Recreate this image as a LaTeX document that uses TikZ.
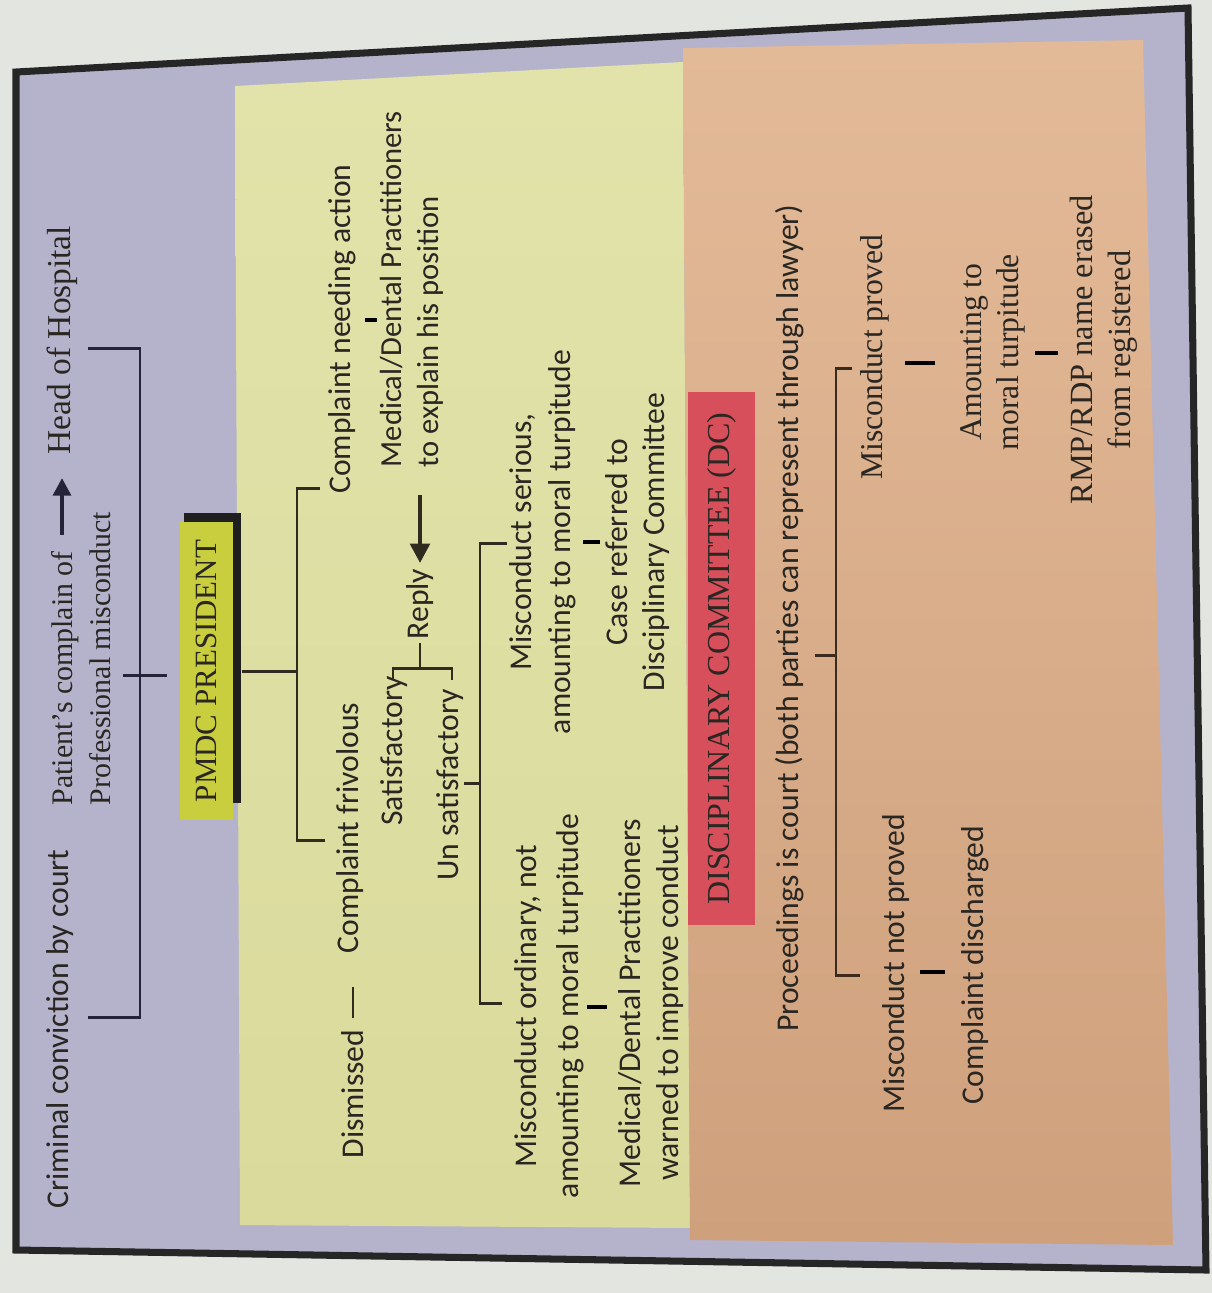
\documentclass[tikz,border=0pt]{standalone}
\usepackage{fontspec}
\setmainfont{Liberation Serif}
\newfontfamily\opt{Carlito}
\usetikzlibrary{arrows.meta,calc}
\definecolor{bgc}{HTML}{E3E5E1}
\definecolor{lav}{HTML}{B5B3CB}
\definecolor{ylwT}{HTML}{E2E3AA}
\definecolor{ylwB}{HTML}{D9DA9B}
\definecolor{orgT}{HTML}{E3BA98}
\definecolor{orgB}{HTML}{CFA07C}
\definecolor{pmdcc}{HTML}{C9CE3E}
\definecolor{dcc}{HTML}{D84F5C}
\definecolor{ink}{HTML}{2A2622}
\definecolor{navy}{HTML}{24233A}
\definecolor{olive}{HTML}{2F2B1E}
\definecolor{brwn}{HTML}{3B2A1D}
\begin{document}
\begin{tikzpicture}[x=0.01cm,y=-0.01cm,
  txt/.style={rotate=90, inner sep=0pt, text=ink, align=center},
  tms/.style={txt, font=\fontsize{9}{10.8}\selectfont},
  sns/.style={txt, font=\opt\fontsize{9}{11}\selectfont},
  ln/.style={line width=0.85pt},
  tk/.style={line width=1.1pt}
]
\useasboundingbox (0,0) rectangle (1212,1293);
\fill[bgc] (0,0) rectangle (1212,1293);
% frame and panels
\filldraw[fill=lav, draw=black!85, line width=2pt] (16,72) -- (1188,8) -- (1206,1270) -- (16,1250) -- cycle;
\shade[top color=ylwT, bottom color=ylwB] (235,86) -- (683,62) -- (690,1228) -- (240,1225) -- cycle;
\shade[top color=orgT, bottom color=orgB] (683,48) -- (1143,40) -- (1173,1245) -- (690,1240) -- cycle;

% ---- top (lavender) level
\node[sns] (crim) at (60,1029) {Criminal conviction by court};
\node[tms, align=left, anchor=west, font=\fontsize{8.5}{10.8}\selectfont] (pat) at (81,806) {Patient's complain of\\Professional misconduct};
\node[tms, font=\fontsize{9.5}{11}\selectfont] (head) at (62,340) {Head of Hospital};
\coordinate (arS) at (62,535);
\coordinate (arE) at (62,478);
\draw[navy, line width=1.2pt, -{Triangle[length=5pt,width=5pt]}] (arS) -- (arE);
\draw[ln, navy] (88,348) -- (140,348) -- (140,1017) -- (88,1017);
\draw[ln, navy] (123,675) -- (167,675);

% ---- PMDC president
\fill[black!88] (184,513) rectangle (241,803);
\node[rotate=90, fill=pmdcc, minimum width=2.98cm, minimum height=0.53cm, inner sep=0pt,
      font=\fontsize{8.8}{10}\selectfont, text=ink] (pmdc) at (206.5,671) {PMDC PRESIDENT};
\coordinate (b2) at (297,671);
\draw[ln, olive] ([xshift=0.08cm]pmdc.south) -- (b2);
\draw[ln, olive] (320,488) -- (297,488) -- (297,840) -- (325,840);

\node[sns] (cna) at (342,329) {Complaint needing action};
\node[sns, align=left, anchor=west, font=\opt\fontsize{8.7}{10.5}\selectfont] (mdp) at (412,468) {Medical/Dental Practitioners\\to explain his position};
\draw[tk] (365,320) -- (377,320);

\node[sns] (dis) at (353,1094) {Dismissed};
\node[sns] (cf) at (350,828) {Complaint frivolous};
\draw[ln, olive] (dis.east |- 0,1018) -- (dis.east |- 0,987);

\node[sns] (sat) at (394,751) {Satisfactory};
\node[sns] (unsat) at (450,785) {Un satisfactory};
\node[sns] (reply) at (420,604) {Reply};
\draw[ln, olive] (393,680) -- (393,668) -- (452,668) -- (452,680);
\draw[ln, olive] (420,668) -- (420,643);
\draw[olive, line width=1.2pt, -{Triangle[length=5.5pt,width=5.5pt]}] (420,495) -- (420,563);

\draw[ln, olive] (unsat.south |- 0,783) -- (480,783);
\draw[ln, olive] (507,543) -- (480,543) -- (480,1003) -- (502,1003);

\node[sns, font=\opt\fontsize{9}{11.2}\selectfont] (ms) at (543,542) {Misconduct serious,\\amounting to moral turpitude};
\node[sns, font=\opt\fontsize{9}{10.5}\selectfont] (crd) at (638,542) {Case referred to\\Disciplinary Committee};
\draw[tk] (583,542) -- (600,542);

\node[sns, font=\opt\fontsize{9}{11.8}\selectfont] (mo) at (549,1006) {Misconduct ordinary, not\\amounting to moral turpitude};
\node[sns, font=\opt\fontsize{9}{10.8}\selectfont] (mdw) at (651,1003) {Medical/Dental Practitioners\\warned to improve conduct};
\draw[tk] (587,1007) -- (607,1007);

% ---- Disciplinary committee
\node[rotate=90, fill=dcc, minimum width=5.33cm, minimum height=0.67cm, inner sep=0pt,
      font=\fontsize{9.1}{10}\selectfont, text=ink] (dc) at (721.5,658.5) {DISCIPLINARY COMMITTEE (DC)};
\node[sns] (proc) at (790,618) {Proceedings is court (both parties can represent through lawyer)};
\draw[ln, brwn] (815,655) -- (836,655);
\draw[ln, brwn] (852,368) -- (836,368) -- (836,975) -- (860,975);

\node[tms] (mp) at (875,357) {Misconduct proved};
\draw[tk] (905,363) -- (935,363);
\node[tms, font=\fontsize{9}{10.5}\selectfont] (amt) at (993,352) {Amounting to\\moral turpitude};
\draw[tk] (1035,353) -- (1058,353);
\node[tms, font=\fontsize{9.2}{10.8}\selectfont] (rmp) at (1104,350) {RMP/RDP name erased\\from registered};

\node[sns] (mnp) at (896,963) {Misconduct not proved};
\draw[tk] (920,972) -- (945,972);
\node[sns] (cd) at (975,965) {Complaint discharged};
\end{tikzpicture}
\end{document}
